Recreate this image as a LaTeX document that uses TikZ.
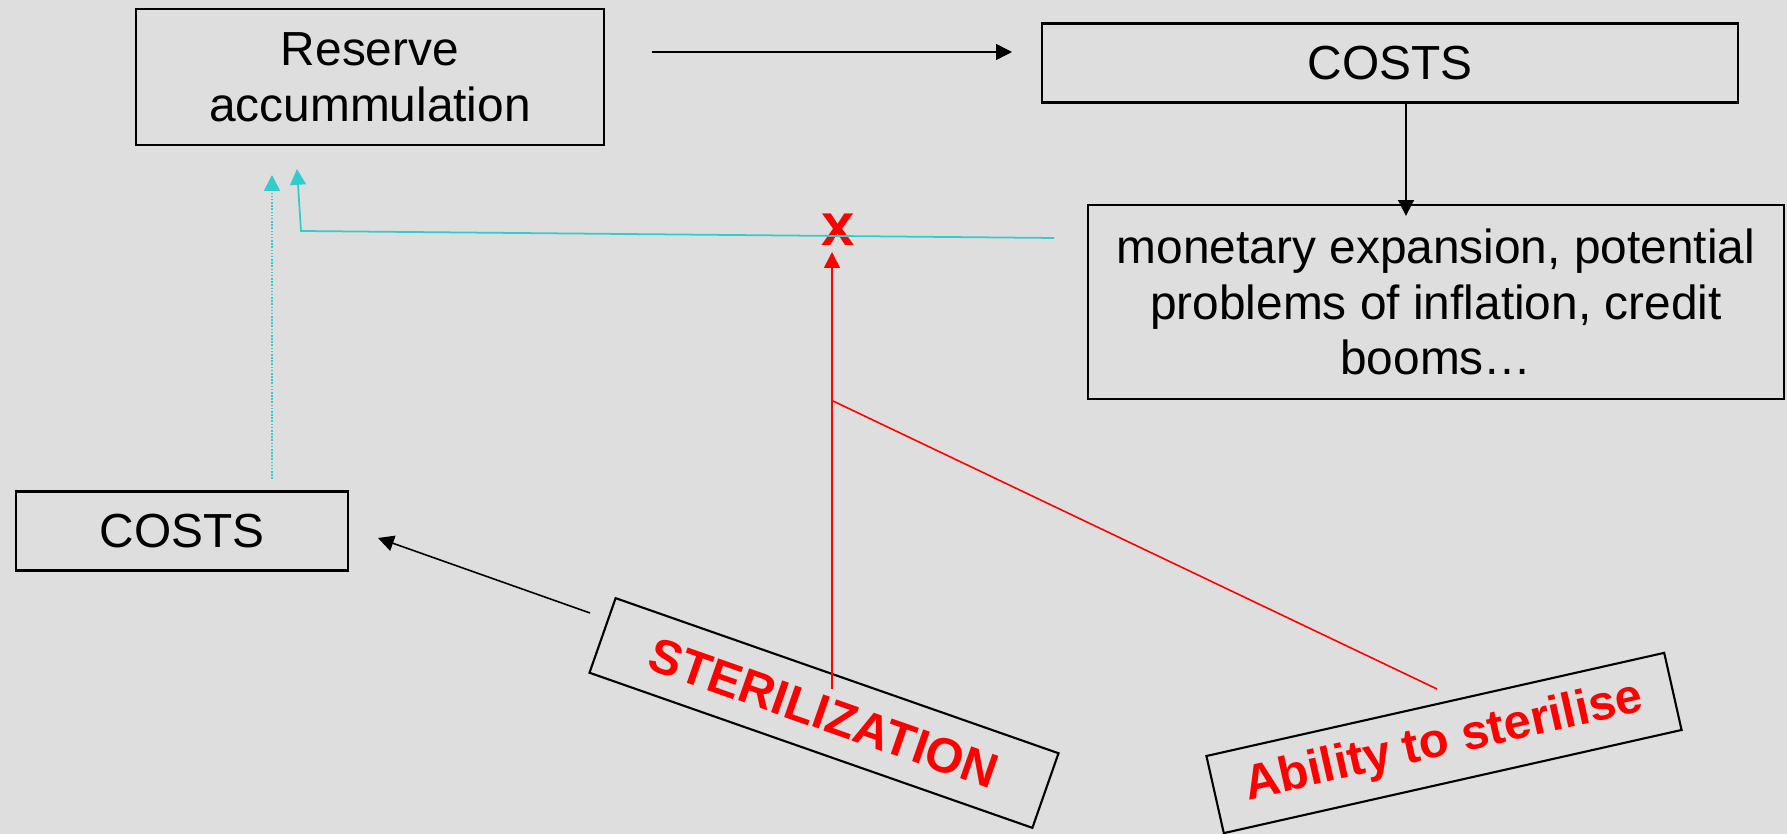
\documentclass[tikz,border=0pt]{standalone}
\usepackage{fontspec}
\setmainfont{Liberation Sans}
\usepackage{xcolor}
\usetikzlibrary{positioning, arrows.meta}
\definecolor{slidegray}{RGB}{222,222,222}
\definecolor{flowcyan}{RGB}{51,204,204}

\begin{document}
\begin{tikzpicture}[
x=0.01cm, y=-0.01cm,
every node/.style={align=center, font=\fontsize{13.6}{15.9}\selectfont},
boxstyle/.style={draw, line width=0.6pt, inner sep=0pt},
policy/.style={boxstyle, text=red, font=\fontsize{13.9}{16}\selectfont\bfseries, minimum width=4.69cm, minimum height=0.79cm},
blackarrow/.style={-{Triangle[length=4.5pt,width=4.5pt]}, line width=0.45pt},
cyanarrow/.style={-{Triangle[length=4.5pt,width=4.5pt]}, line width=0.5pt, flowcyan},
redarrow/.style={-{Triangle[length=4.5pt,width=4.5pt]}, line width=0.45pt, red}
]
\useasboundingbox[fill=slidegray] (0,0) rectangle (1787,834);
% Boxes
\node[boxstyle, minimum width=4.68cm, minimum height=1.36cm] (reserve) at (370,77) {Reserve\\accummulation};
\node[boxstyle, minimum width=6.95cm, minimum height=0.79cm] (costtop) at (1390,63) {COSTS};
\node[boxstyle, minimum width=6.96cm, minimum height=1.94cm] (monetary) at (1436,302) {monetary expansion, potential\\problems of inflation, credit\\booms\dots};
\node[boxstyle, minimum width=3.32cm, minimum height=0.79cm] (costleft) at (182,531) {COSTS};
\node[policy, rotate=-19.3] (steril) at (824,713) {STERILIZATION};
\node[policy, rotate=12.7] (ability) at (1444,743) {Ability to sterilise};
\node[anchor=base, text=red, font=\fontsize{17}{20}\selectfont\bfseries, inner sep=0pt] (xmark) at (838,246) {x};
% Free ends
\coordinate (resout) at (652,52);
\coordinate (costin) at (1012,52);
\coordinate (monout) at (1054,238);
\coordinate (bend) at (301,231);
\coordinate (resin1) at (297,169);
\coordinate (leftout) at (272,479);
\coordinate (resin2) at (272,175);
\coordinate (sterout) at (832,689);
\coordinate (blocked) at (832,252);
\coordinate (joint) at (833,401);
\coordinate (abilout) at (1437,689);
\coordinate (sterleft) at (590,613);
\coordinate (costleftin) at (378,538);
% Connectors
\draw[blackarrow] (resout) -- (costin);
\draw[blackarrow] ([xshift=0.16cm]costtop.south) -- ([xshift=-0.3cm, yshift=-0.12cm]monetary.north);
\draw[cyanarrow] (monout) -- (bend) -- (resin1);
\draw[cyanarrow, dash pattern=on 0.45pt off 0.45pt] (leftout) -- (resin2);
\draw[redarrow] (sterout) -- (blocked);
\draw[red, line width=0.45pt] (joint) -- (abilout);
\draw[blackarrow] (sterleft) -- (costleftin);
\end{tikzpicture}
\end{document}
